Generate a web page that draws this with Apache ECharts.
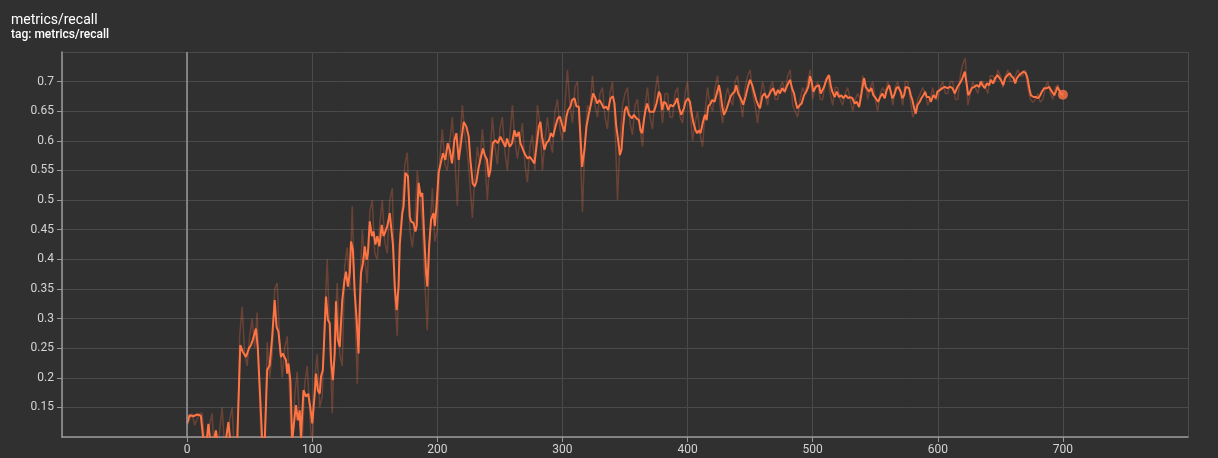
<!DOCTYPE html>
<html>
<head>
<meta charset="utf-8">
<title>metrics/recall</title>
<script src="https://cdn.jsdelivr.net/npm/echarts@6/dist/echarts.min.js"></script>
<style>
  html, body { margin: 0; padding: 0; background: #303030; }
  #chart { width: 1218px; height: 458px; }
</style>
</head>
<body>
<div id="chart"></div>
<script>
// Smoothed recall curve (step, value)
const smoothSteps = [
  0, 2, 5, 8, 11, 13, 15, 17, 19, 21, 23, 25, 28, 31, 33, 35, 38, 40,
  42.5, 44.5, 47, 49.5, 51, 52.5, 55, 56.5, 58, 60, 62, 64, 66, 68, 70, 71.5, 73, 75, 76.5, 79, 80, 81, 82.5,
  84, 87, 88.5, 90, 91, 93, 95, 96.8, 98.4, 100, 102, 103, 104.5, 106, 107, 108.5, 111, 112.5, 114, 115,
  116.5, 118, 119, 120.5, 122, 124, 125.8, 127, 128.5, 130, 131, 132.5, 134, 135.5, 137, 138, 139, 140.5,
  142, 143.5, 144.5, 146, 147.7, 149, 150.5, 152, 153.7, 155.5, 157, 158.5, 160, 162, 163, 164.5, 166,
  167.5, 169, 170, 172, 173, 174.5, 176.5, 178, 179, 181, 182.5, 183.5, 185, 186.7, 188, 189.5, 191, 192,
  193.5, 195, 197, 198, 199.5, 201, 202.4,
  204.5, 206.4, 208.3, 209.9, 211.7, 213.6, 215.2, 217.1, 218.9, 221.1, 223.2, 225.1, 226.4, 228.3, 229.9,
  231.2, 233.1, 234.9, 236.5, 237.9, 239.7, 241.1, 242.4, 244.3, 246.4, 248.3, 250.4, 252.3, 254.4, 255.7,
  257.9, 259.7, 261.6, 263.2, 265.1, 266.4, 268.5, 270.4, 272.3, 273.9, 275.7, 277.6, 279.2, 281.1, 282.4,
  283.7, 285.6, 287.2, 289.1, 290.9, 292.5, 294.4, 296.3, 297.9, 299.7, 301.6, 303.2, 304.5, 306.4, 307.7,
  309.6, 311.2, 313.1, 314.4, 315.7, 317.6, 319.2, 321.1, 322.9, 324.5, 326.4, 327.7, 329.6, 331.2, 333.1,
  334.9, 336.5, 338.4, 340.3, 341.6, 342.9, 344.5, 345.9, 347.2, 348.5, 349.9, 351.2, 353.1, 354.4, 355.7,
  357.1, 359.2, 361.1, 362.4, 363.7, 365.1, 366.4, 367.7, 369.6, 370.9, 373.1, 375.2, 377.1, 378.4, 379.7,
  381.1, 382.9, 384.5, 386.4, 388.3, 389.9, 391.7, 393.3, 394.9, 397.1, 398.4, 400.3, 401.9, 402.9, 404.5,
  406.4, 407.7, 409.1, 410.4, 412.3, 413.9, 415.2, 416.5, 418.4, 419.7, 421.6, 423.7, 425.1, 426.4, 427.7,
  429.1, 430.9, 432.3, 434.4, 436, 437.6, 438.9, 440.5, 442.4, 444.5, 446.4, 448.3, 449.9, 451.7, 453.1,
  454.9, 456.3, 457.9, 459.7, 461.6, 463.2, 465.1, 466.4,
  468.5, 470.4, 472.3, 473.9, 475.7, 477.6, 479.7, 481.9, 483.5, 485.1, 486.4, 487.7, 489.6, 491.2, 493.1,
  494.9, 496.5, 497.9, 499.2, 500.5, 502.4, 503.7, 505.1, 506.4, 507.7, 509.1, 510.9, 513.1, 514.4, 515.7,
  517.6, 519.2, 521.1, 522.9, 524.5, 526.4, 528.3, 529.9, 531.7, 533.6, 535.2, 537.1, 538.4, 539.7, 541.1,
  542.4, 543.7, 545.1, 546.9, 548.5, 550.4, 552.3, 553.9, 555.7, 557.6, 559.2, 561.1, 562.4, 563.7, 565.1,
  566.9, 568.5, 570.4, 571.7, 573.1, 574.4, 575.7, 577.1, 578.4, 579.7, 581.1, 582.4, 583.7, 585.6, 586.9,
  588.5, 589.9, 591.2, 593.1, 594.4, 596.5, 598.4, 599.7, 601.9, 603.7, 605.6, 607.7, 609.9, 611.7, 613.6,
  615.7, 617.1, 618.4, 619.7, 621.6, 623.2, 624.3, 625.9, 627.2, 629.1, 631.2, 633.1, 634.4, 635.7, 637.6,
  639.2, 641.1, 642.4, 644.3, 645.9, 647.7, 649.1, 650.4, 652.3, 653.9, 655.7, 657.6, 658.9, 660.5, 661.9,
  663.2, 665.1, 666.9, 668.5, 670.4, 671.7, 673.1, 674.4, 676.5, 678.4, 680.3, 681.9, 683.2, 685.1, 687.2,
  689.1, 690.4, 691.7, 693.1, 694.4, 695.7, 697.1, 698.4, 700
];
const smoothRecall = [
  0.123, 0.137, 0.135, 0.138, 0.136, 0.095, 0.08, 0.122, 0.085, 0.09, 0.111, 0.08, 0.09, 0.095, 0.125, 0.085, 0.07, 0.09,
  0.255, 0.244, 0.235, 0.25, 0.255, 0.264, 0.283, 0.25, 0.185, 0.095, 0.09, 0.213, 0.221, 0.269, 0.331, 0.286, 0.278, 0.235, 0.241, 0.23, 0.207, 0.224, 0.196,
  0.095, 0.154, 0.128, 0.145, 0.098, 0.179, 0.168, 0.173, 0.151, 0.123, 0.173, 0.207, 0.179, 0.173, 0.202, 0.213, 0.337, 0.298, 0.292, 0.23,
  0.196, 0.241, 0.329, 0.264, 0.252, 0.331, 0.365, 0.379, 0.354, 0.377, 0.43, 0.416, 0.343, 0.298, 0.241, 0.318, 0.377, 0.393,
  0.422, 0.399, 0.41, 0.464, 0.439, 0.447, 0.425, 0.439, 0.422, 0.458, 0.439, 0.447, 0.456, 0.478, 0.456, 0.425, 0.354,
  0.314, 0.354, 0.425, 0.478, 0.489, 0.546, 0.54, 0.472, 0.464, 0.461, 0.447, 0.456, 0.529, 0.506, 0.512, 0.439, 0.377, 0.354,
  0.425, 0.467, 0.478, 0.456, 0.495, 0.546, 0.548,
  0.579, 0.568, 0.596, 0.585, 0.562, 0.601, 0.613, 0.568, 0.596, 0.632, 0.624, 0.607, 0.568, 0.528, 0.523,
  0.531, 0.556, 0.573, 0.587, 0.576, 0.568, 0.539, 0.55, 0.596, 0.601, 0.596, 0.607, 0.599, 0.59, 0.604,
  0.59, 0.596, 0.618, 0.607, 0.615, 0.596, 0.585, 0.576, 0.57, 0.573, 0.568, 0.562, 0.59, 0.624, 0.632,
  0.607, 0.585, 0.596, 0.601, 0.613, 0.607, 0.624, 0.638, 0.641, 0.627, 0.615, 0.641, 0.652, 0.658, 0.669,
  0.672, 0.658, 0.658, 0.607, 0.556, 0.585, 0.624, 0.646, 0.663, 0.68, 0.672, 0.663, 0.669, 0.663, 0.655,
  0.658, 0.652, 0.672, 0.675, 0.663, 0.627, 0.601, 0.576, 0.585, 0.624, 0.652, 0.658, 0.644, 0.646, 0.638,
  0.644, 0.638, 0.635, 0.618, 0.613, 0.635, 0.652, 0.663, 0.649, 0.646, 0.649, 0.663, 0.683, 0.677, 0.652,
  0.666, 0.663, 0.652, 0.661, 0.658, 0.663, 0.672, 0.655, 0.644, 0.655, 0.666, 0.672, 0.666, 0.652, 0.632,
  0.618, 0.613, 0.618, 0.613, 0.632, 0.644, 0.635, 0.658, 0.663, 0.669, 0.666, 0.683, 0.694, 0.68, 0.658,
  0.644, 0.652, 0.655, 0.675, 0.68, 0.683, 0.694, 0.68, 0.672, 0.661, 0.675, 0.692, 0.703, 0.694, 0.692,
  0.669, 0.661, 0.655, 0.675, 0.68, 0.672, 0.677, 0.683,
  0.689, 0.677, 0.686, 0.68, 0.689, 0.683, 0.694, 0.703, 0.689, 0.68, 0.666, 0.655, 0.66, 0.663, 0.677,
  0.683, 0.691, 0.709, 0.7, 0.683, 0.691, 0.689, 0.694, 0.68, 0.683, 0.691, 0.703, 0.711, 0.694, 0.683,
  0.674, 0.683, 0.674, 0.677, 0.672, 0.677, 0.672, 0.674, 0.672, 0.663, 0.666, 0.657, 0.672, 0.689, 0.706,
  0.691, 0.694, 0.683, 0.689, 0.677, 0.672, 0.666, 0.674, 0.68, 0.672, 0.686, 0.694, 0.683, 0.672, 0.677,
  0.689, 0.691, 0.683, 0.672, 0.677, 0.691, 0.694, 0.689, 0.677, 0.669, 0.655, 0.646, 0.66, 0.666, 0.672,
  0.677, 0.683, 0.674, 0.674, 0.666, 0.677, 0.672, 0.683, 0.686, 0.689, 0.691, 0.689, 0.691, 0.689, 0.68,
  0.691, 0.689, 0.7, 0.706, 0.717, 0.694, 0.677, 0.683, 0.689, 0.691, 0.694, 0.691, 0.7, 0.694, 0.689,
  0.697, 0.694, 0.703, 0.697, 0.706, 0.711, 0.714, 0.703, 0.694, 0.706, 0.711, 0.714, 0.709, 0.706, 0.697,
  0.706, 0.711, 0.714, 0.717, 0.714, 0.706, 0.689, 0.677, 0.674, 0.674, 0.672, 0.677, 0.683, 0.689, 0.689,
  0.691, 0.686, 0.683, 0.677, 0.683, 0.691, 0.689, 0.68, 0.678
];

// Raw (unsmoothed) recall, logged every 2 steps starting at step 0
const rawRecall = [
  0.12, 0.13, 0.14, 0.12, 0.13, 0.14, 0.14, 0.09, 0.05, 0.12, 0.14, 0.06, 0.07, 0.11, 0.15, 0.08,
  0.06, 0.13, 0.15, 0.06, 0.05, 0.27, 0.32, 0.24, 0.22, 0.27, 0.30, 0.25, 0.31, 0.16, 0.04, 0.08,
  0.26, 0.20, 0.24, 0.35, 0.36, 0.26, 0.20, 0.25, 0.27, 0.17, 0.04, 0.17, 0.21, 0.12, 0.09, 0.19,
  0.22, 0.14, 0.07, 0.20, 0.24, 0.15, 0.17, 0.30, 0.40, 0.27, 0.14, 0.28, 0.36, 0.24, 0.22, 0.39,
  0.42, 0.35, 0.49, 0.33, 0.19, 0.34, 0.45, 0.40, 0.36, 0.48, 0.50, 0.41, 0.40, 0.46, 0.50, 0.43,
  0.41, 0.50, 0.52, 0.33, 0.27, 0.44, 0.49, 0.56, 0.58, 0.45, 0.42, 0.46, 0.55, 0.51, 0.46, 0.36,
  0.28, 0.44, 0.52, 0.43, 0.45, 0.57, 0.62, 0.56, 0.55, 0.60, 0.64, 0.57, 0.49, 0.60, 0.66, 0.61,
  0.58, 0.53, 0.47, 0.54, 0.59, 0.56, 0.62, 0.57, 0.50, 0.57, 0.64, 0.59, 0.56, 0.62, 0.64, 0.58,
  0.55, 0.61, 0.66, 0.60, 0.57, 0.60, 0.63, 0.56, 0.53, 0.59, 0.61, 0.55, 0.66, 0.63, 0.55, 0.60,
  0.64, 0.60, 0.58, 0.65, 0.67, 0.62, 0.60, 0.66, 0.72, 0.66, 0.63, 0.69, 0.70, 0.60, 0.48, 0.60,
  0.66, 0.65, 0.71, 0.66, 0.64, 0.68, 0.69, 0.64, 0.62, 0.68, 0.70, 0.63, 0.50, 0.60, 0.66, 0.68,
  0.69, 0.63, 0.61, 0.66, 0.67, 0.62, 0.59, 0.66, 0.69, 0.64, 0.62, 0.68, 0.71, 0.67, 0.63, 0.68,
  0.68, 0.64, 0.64, 0.68, 0.69, 0.64, 0.63, 0.68, 0.70, 0.65, 0.60, 0.63, 0.65, 0.61, 0.59, 0.65,
  0.69, 0.66, 0.65, 0.69, 0.71, 0.66, 0.63, 0.67, 0.69, 0.67, 0.66, 0.70, 0.71, 0.67, 0.64, 0.69,
  0.71, 0.72, 0.68, 0.66, 0.63, 0.67, 0.70, 0.68, 0.66, 0.69, 0.70, 0.67, 0.67, 0.69, 0.70, 0.68,
  0.71, 0.72, 0.66, 0.65, 0.64, 0.67, 0.69, 0.68, 0.70, 0.72, 0.67, 0.69, 0.70, 0.67, 0.67, 0.70,
  0.71, 0.68, 0.66, 0.69, 0.69, 0.67, 0.66, 0.68, 0.69, 0.67, 0.65, 0.67, 0.68, 0.67, 0.71, 0.70,
  0.67, 0.69, 0.70, 0.67, 0.65, 0.68, 0.69, 0.68, 0.70, 0.69, 0.66, 0.69, 0.70, 0.68, 0.66, 0.70,
  0.70, 0.67, 0.64, 0.65, 0.67, 0.68, 0.69, 0.68, 0.66, 0.67, 0.69, 0.67, 0.67, 0.69, 0.70, 0.68,
  0.68, 0.70, 0.70, 0.67, 0.67, 0.71, 0.73, 0.74, 0.66, 0.68, 0.70, 0.69, 0.68, 0.70, 0.70, 0.69,
  0.68, 0.71, 0.71, 0.70, 0.72, 0.71, 0.69, 0.71, 0.72, 0.70, 0.70, 0.71, 0.72, 0.71, 0.71, 0.72,
  0.69, 0.67, 0.665, 0.67, 0.68, 0.665, 0.67, 0.69, 0.70, 0.68, 0.67, 0.69, 0.695, 0.675, 0.678
];
const rawSteps = rawRecall.map((_, i) => i * 2);

// Tick labels drawn on each axis
const yTickLabels = ['0.15', '0.2', '0.25', '0.3', '0.35', '0.4', '0.45', '0.5', '0.55', '0.6', '0.65', '0.7'];
const xTickLabels = ['0', '100', '200', '300', '400', '500', '600', '700'];

const runColor = '#ff7443';
const gridColor = '#4a4a4a';
const axisColor = '#9a9a9a';
const textColor = '#d4d4d4';

const zip = (xs, ys) => xs.map((x, i) => [x, ys[i]]);
const smoothData = zip(smoothSteps, smoothRecall);
const rawData = zip(rawSteps, rawRecall);
const lastPoint = smoothData[smoothData.length - 1];

const chart = echarts.init(document.getElementById('chart'), null, { renderer: 'canvas' });
chart.setOption({
  backgroundColor: '#303030',
  animation: false,
  textStyle: { fontFamily: 'Roboto, "Noto Sans", sans-serif' },
  title: {
    text: 'metrics/recall',
    subtext: 'tag: metrics/recall',
    left: 6,
    top: 8,
    itemGap: 2,
    textStyle: { color: '#ffffff', fontSize: 14, fontWeight: 'normal' },
    subtextStyle: { color: '#ffffff', fontSize: 12, fontWeight: 500 }
  },
  grid: { left: 62, right: 30, top: 52, bottom: 21, containLabel: false },
  xAxis: {
    type: 'value',
    min: -100,
    max: 800,
    interval: 100,
    axisLine: { show: true, lineStyle: { color: axisColor, width: 1.5 } },
    axisTick: { show: true, length: 5, lineStyle: { color: axisColor } },
    axisLabel: {
      color: textColor, fontSize: 12, margin: 7,
      showMinLabel: false, showMaxLabel: false,
      formatter: v => xTickLabels.includes(String(v)) ? String(v) : ''
    },
    splitLine: { show: true, lineStyle: { color: gridColor, width: 1 } }
  },
  yAxis: {
    type: 'value',
    min: 0.1,
    max: 0.75,
    interval: 0.05,
    axisLine: { show: true, onZero: false, lineStyle: { color: axisColor, width: 1.5 } },
    axisTick: { show: true, length: 5, lineStyle: { color: axisColor } },
    axisLabel: {
      color: textColor, fontSize: 12, margin: 8,
      showMinLabel: false, showMaxLabel: false,
      formatter: v => {
        const s = String(+v.toFixed(2));
        return yTickLabels.includes(s) ? s : '';
      }
    },
    splitLine: { show: true, lineStyle: { color: gridColor, width: 1 } }
  },
  series: [
    {
      name: 'raw',
      type: 'line',
      data: rawData,
      symbol: 'none',
      clip: true,
      silent: true,
      lineStyle: { color: runColor, width: 1.5, opacity: 0.28 },
      z: 2
    },
    {
      name: 'smoothed',
      type: 'line',
      data: smoothData,
      symbol: 'none',
      clip: true,
      lineStyle: { color: runColor, width: 2 },
      markLine: {
        silent: true,
        symbol: ['none', 'none'],
        label: { show: false },
        lineStyle: { color: axisColor, type: 'solid', width: 1.5 },
        data: [{ xAxis: 0 }]
      },
      z: 3
    },
    {
      name: 'last',
      type: 'scatter',
      data: [lastPoint],
      symbolSize: 10,
      itemStyle: { color: runColor },
      z: 4
    }
  ]
});
</script>
</body>
</html>
